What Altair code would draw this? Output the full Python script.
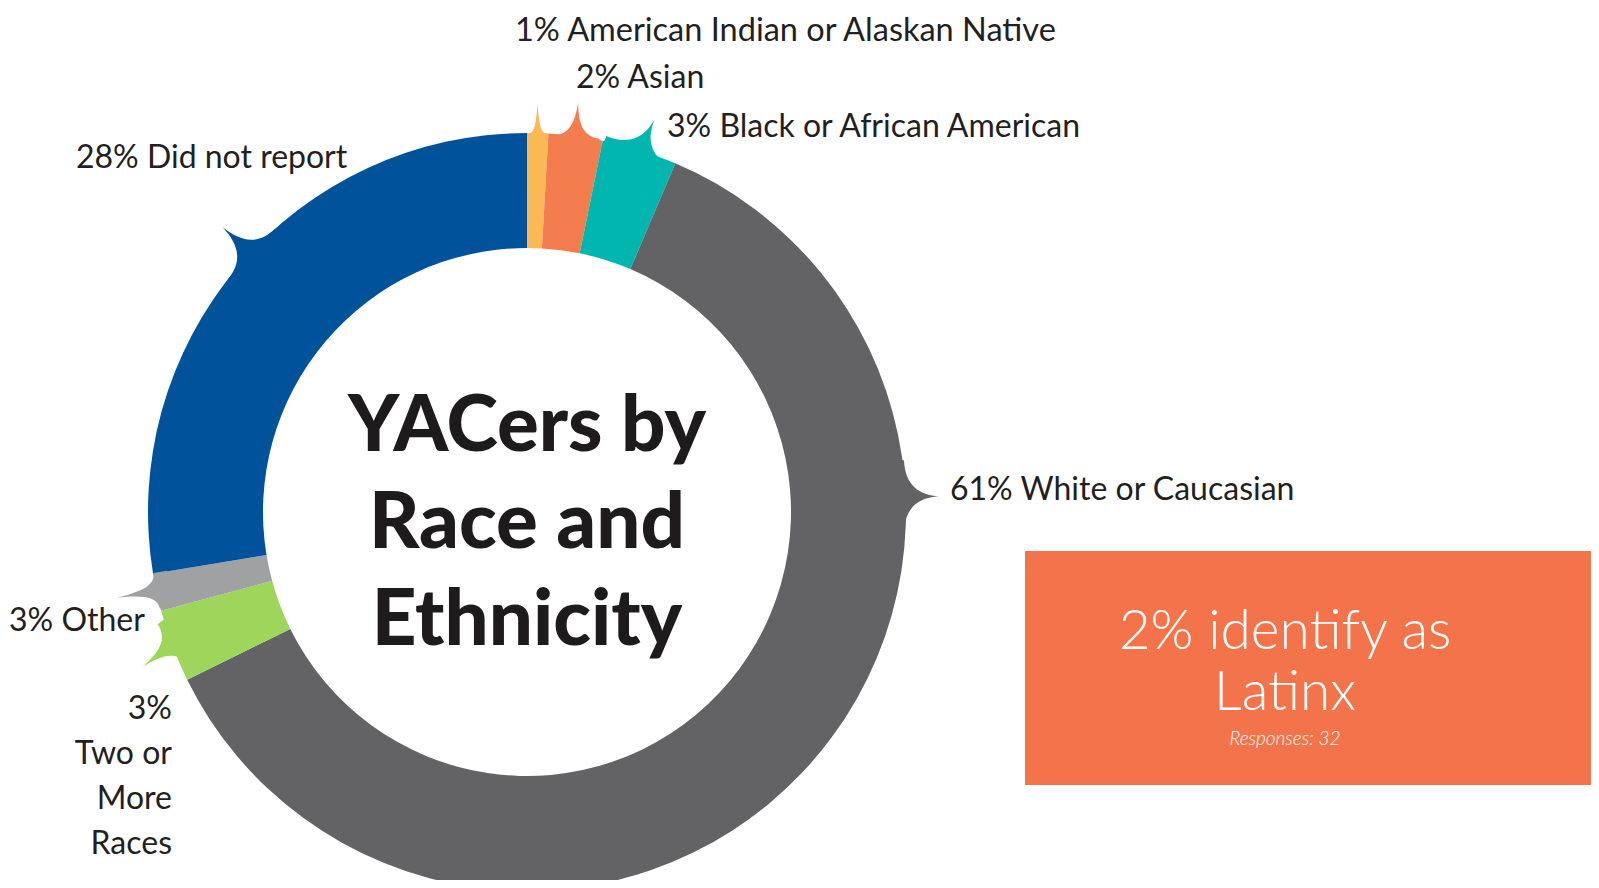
import altair as alt
import pandas as pd
import math

# ---- data ----
categories = ["American Indian or Alaskan Native", "Asian", "Black or African American",
              "White or Caucasian", "Two or More Races", "Other", "Did not report"]
shares = [0.9, 2.3, 3.2, 61.3, 3.1, 1.6, 27.6]
labels = ["1% American Indian or Alaskan Native", "2% Asian", "3% Black or African American",
          "61% White or Caucasian", "3%\nTwo or\nMore\nRaces", "3% Other", "28% Did not report"]
colors = ["#FBB955", "#F47D4F", "#00B6AE", "#636366", "#9DD65B", "#A0A1A3", "#00539B"]
title_text = "YACers by\nRace and\nEthnicity"
box_text = "2% identify as\nLatinx"
box_note = "Responses: 32"

# ---- layout (chart coordinates) ----
CX, CY = 519, 504
R_OUT, R_IN = 379, 264
TEXT = "#231F20"
FONT = "Lato"
W, H = 1583, 872

df = pd.DataFrame({"cat": categories, "share": shares, "idx": list(range(len(categories)))})

ring = alt.Chart(df).mark_arc(radius=R_OUT, radius2=R_IN, strokeWidth=0).encode(
    theta=alt.Theta("share:Q", stack=True),
    order=alt.Order("idx:Q"),
    color=alt.Color("cat:N", scale=alt.Scale(domain=categories, range=colors), legend=None),
    x=alt.value(CX), y=alt.value(CY),
)

# ---- decorative spikes (cat index, position angle deg, length, half width, rotation) ----
spike_layout = [
    (0, 1.6, 29, 9, 0),
    (1, 7.4, 34, 24, 4),
    (2, 17.3, 34, 36, 26),
    (3, 87.6, 33, 36, 90),
    (5, 258.0, 40, 18, 260),
    (4, 249.5, 37, 25, 233),
    (6, 313.1, 38, 35, 313),
]
rows = []
for ci, phi, L, w, rot in spike_layout:
    sag = w * w / (2 * R_OUT)
    d = 14
    path = (f"M {-w} {d} L {-w} {sag:.1f} C {-w*0.25:.1f} {sag*0.2:.1f} {-1.5} {-L*0.45:.1f} 0 {-L} "
            f"C 1.5 {-L*0.45:.1f} {w*0.25:.1f} {sag*0.2:.1f} {w} {sag:.1f} L {w} {d} Z")
    a = math.radians(phi)
    rows.append({"cat": categories[ci], "px": CX + R_OUT * math.sin(a), "py": CY - R_OUT * math.cos(a),
                 "path": path, "rot": rot})
sp = pd.DataFrame(rows)
spikes = alt.Chart(sp).mark_point(filled=True, opacity=1, strokeWidth=0).encode(
    x=alt.X("px:Q", scale=None), y=alt.Y("py:Q", scale=None),
    shape=alt.Shape("path:N", scale=None),
    size=alt.value(4),
    angle=alt.Angle("rot:Q", scale=None),
    color=alt.Color("cat:N", scale=alt.Scale(domain=categories, range=colors), legend=None),
)

def label(text, x, y, align="left", size=32, **kw):
    return alt.Chart(pd.DataFrame({"t": [text]})).mark_text(
        align=align, baseline="middle", font=FONT, fontSize=size, color=kw.pop("color", TEXT),
        lineBreak="\n", **kw
    ).encode(text="t:N", x=alt.value(x), y=alt.value(y))

texts = [
    label(labels[0], 507, 23, size=32.5),
    label(labels[1], 568, 70),
    label(labels[2], 659, 119),
    label(labels[3], 942, 482),
    label(labels[4], 164, 701, align="right", lineHeight=45),
    label(labels[5], 1, 613),
    label(labels[6], 68, 150),
]

title = label(title_text, CX, 420, align="center", size=78, fontWeight=900, lineHeight=97, color="#1E1B1C")

box = alt.Chart(pd.DataFrame({"a": [0]})).mark_rect(color="#F3744A").encode(
    x=alt.value(1017), x2=alt.value(W), y=alt.value(543), y2=alt.value(777))
box_t = label(box_text, 1277, 624, align="center", size=55, color="white", lineHeight=61, fontWeight=300)
box_n = label(box_note, 1277, 731, align="center", size=19, color="white", fontStyle="italic", fontWeight=300)

chart = alt.layer(ring, spikes, *texts, title, box, box_t, box_n).properties(
    width=W, height=H, padding=0, autosize=alt.AutoSizeParams(type="none")
).configure_view(strokeWidth=0)

chart.save("out.html", embed_options={"renderer": "svg", "actions": False})
